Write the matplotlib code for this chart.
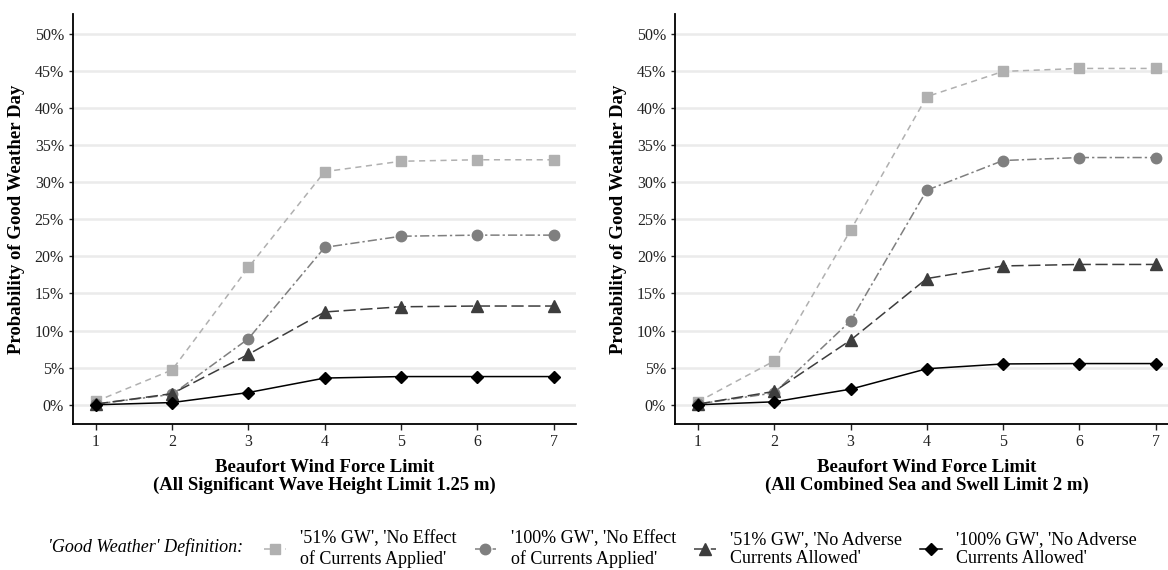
import numpy as np
import matplotlib
matplotlib.use("Agg")
import matplotlib.pyplot as plt
from matplotlib.lines import Line2D
from matplotlib.ticker import FuncFormatter

plt.rcParams['font.family'] = ['Liberation Serif', 'DejaVu Serif']

# Beaufort wind force limit
beaufort = [1, 2, 3, 4, 5, 6, 7]

# left panel: significant wave height limit 1.25 m (percent)
left_51_noeffect = [0.45, 4.7, 18.5, 31.4, 32.8, 33.0, 33.0]
left_100_noeffect = [0.1, 1.4, 8.9, 21.2, 22.7, 22.85, 22.85]
left_51_noadverse = [0.1, 1.5, 6.8, 12.5, 13.2, 13.3, 13.3]
left_100_noadverse = [0.0, 0.3, 1.65, 3.6, 3.8, 3.8, 3.8]

# right panel: combined sea and swell limit 2 m (percent)
right_51_noeffect = [0.4, 5.9, 23.5, 41.5, 44.9, 45.3, 45.3]
right_100_noeffect = [0.1, 1.6, 11.3, 28.9, 32.9, 33.3, 33.3]
right_51_noadverse = [0.1, 1.8, 8.7, 17.0, 18.7, 18.9, 18.9]
right_100_noadverse = [0.0, 0.4, 2.1, 4.85, 5.5, 5.55, 5.55]

series_labels = ["'51% GW', 'No Effect\nof Currents Applied'",
                 "'100% GW', 'No Effect\nof Currents Applied'",
                 "'51% GW', 'No Adverse\nCurrents Allowed'",
                 "'100% GW', 'No Adverse\nCurrents Allowed'"]

xlabels = ["Beaufort Wind Force Limit\n(All Significant Wave Height Limit 1.25 m)",
           "Beaufort Wind Force Limit\n(All Combined Sea and Swell Limit 2 m)"]

styles = [dict(color='#b0b0b0', marker='s', ls=(0, (4, 3)), ms=7.5, lw=1.1),
          dict(color='#7f7f7f', marker='o', ls=(0, (6, 2, 1.5, 2)), ms=7.5, lw=1.1),
          dict(color='#3d3d3d', marker='^', ls=(0, (8, 3)), ms=9, lw=1.1),
          dict(color='#000000', marker='D', ls='-', ms=6, lw=1.1)]

fig = plt.figure(figsize=(11.68, 5.70), dpi=100)
ax_l = fig.add_axes([0.0625, 0.256, 0.431, 0.719])
ax_r = fig.add_axes([0.578, 0.256, 0.431, 0.719])

panels = [(ax_l, [left_51_noeffect, left_100_noeffect, left_51_noadverse, left_100_noadverse]),
          (ax_r, [right_51_noeffect, right_100_noeffect, right_51_noadverse, right_100_noadverse])]

for i, (ax, data) in enumerate(panels):
    for vals, st in zip(data, styles):
        ax.plot(beaufort, vals, color=st['color'], marker=st['marker'], linestyle=st['ls'],
                markersize=st['ms'], linewidth=st['lw'], zorder=3)
    ax.set_xlim(0.7, 7.3)
    ax.set_ylim(-2.6, 52.6)
    ax.set_yticks(np.arange(0, 51, 5))
    ax.yaxis.set_major_formatter(FuncFormatter(lambda v, p: '%d%%' % v))
    ax.set_xticks(beaufort)
    ax.grid(axis='y', color='#ebebeb', linewidth=1.8, zorder=0)
    ax.set_axisbelow(True)
    for s in ['top', 'right']:
        ax.spines[s].set_visible(False)
    for s in ['left', 'bottom']:
        ax.spines[s].set_linewidth(1.3)
    ax.tick_params(axis='both', labelsize=11.5, length=4, width=1, colors='#222222', labelcolor='#222222')
    ax.tick_params(axis='y', length=3)
    ax.set_ylabel('Probability of Good Weather Day', fontsize=13.5, fontweight='bold', labelpad=7)
    ax.set_xlabel(xlabels[i], fontsize=13.5, fontweight='bold', labelpad=6, linespacing=1.1)

handles = [Line2D([], [], color=st['color'], marker=st['marker'], linestyle=st['ls'],
                  markersize=st['ms'], linewidth=st['lw']) for st in styles]
fig.text(0.041, 0.040, "'Good Weather' Definition:", fontsize=13, style='italic', va='center')
fig.legend(handles, series_labels, loc='center left', bbox_to_anchor=(0.212, 0.037), ncol=4,
           frameon=False, fontsize=13, handlelength=1.2, handletextpad=0.8, columnspacing=1.0,
           labelspacing=0.2)

fig.savefig('out.png', dpi=100)
